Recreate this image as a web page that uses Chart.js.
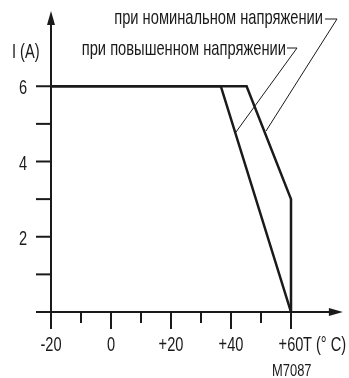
<!DOCTYPE html>
<html>
<head>
<meta charset="utf-8">
<script src="https://cdn.jsdelivr.net/npm/chart.js@4"></script>
<style>
  html, body { margin: 0; padding: 0; background: #fff; }
  canvas { display: block; }
</style>
</head>
<body>
<canvas id="myChart" width="349" height="378"></canvas>
<script>
// curves: I (A) against T (°C)
const nominalT = [-20, 45.2, 60, 60];
const nominalI = [6, 6, 3, 0];
const elevatedT = [-20, 36.6, 60];
const elevatedI = [6, 6, 0];

const xTicks = [-20, -10, 0, 10, 20, 30, 40, 50, 60];
const xLabels = ['-20', '', '0', '', '+20', '', '+40', '', '+60'];
const yTicks = [1, 2, 3, 4, 5, 6];
const yLabels = ['', '2', '', '4', '', '6'];

const FONT = "'Liberation Sans', Arial, sans-serif";
const INK = '#1a1a1a';

function toPoints(xs, ys) {
    return xs.map((x, i) => ({ x: x, y: ys[i] }));
}

// draws horizontally condensed text (the original uses a condensed face)
function text(c, str, x, y, size, align, squeeze) {
    c.save();
    c.font = size + 'px ' + FONT;
    c.textAlign = align;
    c.textBaseline = 'alphabetic';
    c.translate(x, y);
    c.scale(squeeze || 0.73, 1);
    c.fillText(str, 0, 0);
    c.restore();
}

const axesPlugin = {
    id: 'axes',
    afterDatasetsDraw(chart) {
        const c = chart.ctx;
        const xs = chart.scales.x;
        const ys = chart.scales.y;
        const x0 = xs.getPixelForValue(-20);
        const y0 = ys.getPixelForValue(0);
        c.save();
        c.strokeStyle = INK;
        c.fillStyle = INK;
        c.lineWidth = 2;

        // y axis with arrow
        const yTop = ys.getPixelForValue(8);
        c.beginPath();
        c.moveTo(x0, y0 + 17);
        c.lineTo(x0, yTop + 10);
        c.stroke();
        c.beginPath();
        c.moveTo(x0, yTop);
        c.lineTo(x0 - 4, yTop + 14);
        c.lineTo(x0 + 4, yTop + 14);
        c.closePath();
        c.fill();

        // x axis with arrow
        const xEnd = xs.getPixelForValue(77.3);
        c.beginPath();
        c.moveTo(xs.getPixelForValue(-25), y0);
        c.lineTo(xEnd - 8, y0);
        c.stroke();
        c.beginPath();
        c.moveTo(xEnd, y0);
        c.lineTo(xEnd - 14, y0 - 4);
        c.lineTo(xEnd - 14, y0 + 4);
        c.closePath();
        c.fill();

        // tick marks and labels
        xTicks.forEach((v, i) => {
            const px = xs.getPixelForValue(v);
            c.beginPath();
            c.moveTo(px, y0);
            c.lineTo(px, y0 + (xLabels[i] ? 17 : 11));
            c.stroke();
            if (xLabels[i]) text(c, xLabels[i], px, y0 + 38.5, 20, 'center');
        });
        yTicks.forEach((v, i) => {
            const py = ys.getPixelForValue(v);
            c.beginPath();
            c.moveTo(x0 - 15, py);
            c.lineTo(x0, py);
            c.stroke();
            if (yLabels[i]) text(c, yLabels[i], x0 - 24, py + 8, 20, 'right');
        });

        // leader lines
        c.lineWidth = 1;
        c.beginPath();
        c.moveTo(325, 19);
        c.lineTo(337, 19);
        c.lineTo(266, 131);
        c.stroke();
        c.beginPath();
        c.moveTo(287, 48);
        c.lineTo(297, 48);
        c.lineTo(236, 132);
        c.stroke();

        // texts
        text(c, 'при номинальном напряжении', 323, 23.5, 21, 'right', 0.70);
        text(c, 'при повышенном напряжении', 286, 54.5, 21, 'right', 0.70);
        text(c, 'I (A)', 12, 58, 20, 'left');
        text(c, 'T (° C)', 303, y0 + 38.5, 20, 'left');
        text(c, 'M7087', 272, 376, 17, 'left', 0.76);
        c.restore();
    }
};

const ctx = document.getElementById('myChart');

var chart = new Chart(ctx, {
    type: 'line',
    data: {
        datasets: [{
            label: 'при номинальном напряжении',
            data: toPoints(nominalT, nominalI),
            borderColor: INK,
            borderWidth: 2.5,
            pointRadius: 0,
            fill: false
        }, {
            label: 'при повышенном напряжении',
            data: toPoints(elevatedT, elevatedI),
            borderColor: INK,
            borderWidth: 2.5,
            pointRadius: 0,
            fill: false
        }]
    },
    options: {
        responsive: false,
        animation: false,
        devicePixelRatio: 1,
        layout: { padding: { top: 11, right: 4, left: 0, bottom: 0 } },
        plugins: {
            legend: { display: false },
            tooltip: { enabled: false }
        },
        scales: {
            x: {
                type: 'linear',
                min: -25,
                max: 78,
                afterBuildTicks: s => { s.ticks = xTicks.map(v => ({ value: v })); },
                afterFit: s => { s.height = 66; s.paddingLeft = 0; s.paddingRight = 0; },
                grid: { display: false },
                border: { display: false },
                ticks: { display: false }
            },
            y: {
                min: 0,
                max: 8,
                afterBuildTicks: s => { s.ticks = yTicks.map(v => ({ value: v })); },
                afterFit: s => { s.width = 36; s.paddingTop = 0; s.paddingBottom = 0; },
                grid: { display: false },
                border: { display: false },
                ticks: { display: false }
            }
        }
    },
    plugins: [axesPlugin]
});
</script>
</body>
</html>
